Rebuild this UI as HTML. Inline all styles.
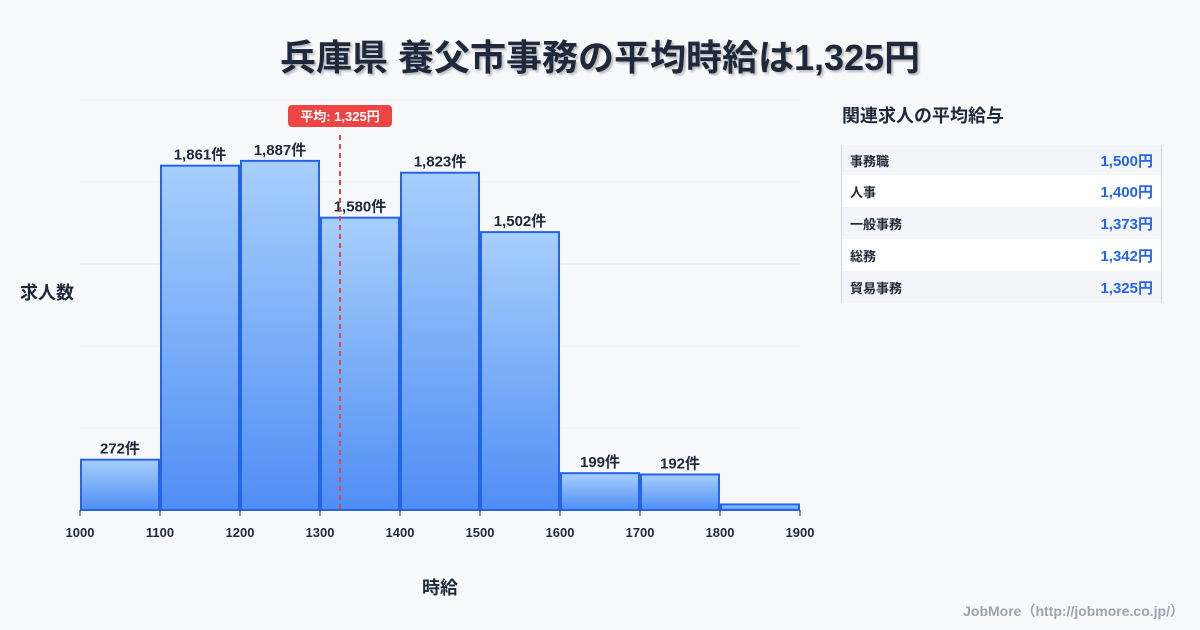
<!DOCTYPE html>
<html><head><meta charset="utf-8">
<style>
body{margin:0;width:1200px;height:630px;background:#f8f9fb;font-family:"Liberation Sans","Noto Sans CJK JP",sans-serif;overflow:hidden;position:relative;color:#1f2937}
#title{position:absolute;top:29px;left:0;width:1200px;text-align:center;font-size:36px;font-weight:bold;color:#1e293b;text-shadow:2px 2px 2px rgba(0,0,0,.25)}
#side-title{position:absolute;left:842px;top:102px;font-size:18px;font-weight:bold;color:#1e293b}
#table{position:absolute;left:841px;top:145px;width:319px;border-left:1px solid #cbd5e1;border-right:1px solid #cbd5e1}
.row{height:32px;display:flex;justify-content:space-between;align-items:center;padding:0 8px;font-size:13px;font-weight:bold}
.row:nth-child(odd){background:#f3f5f8}.row:nth-child(even){background:#fff}
.row .v{color:#2563eb;font-size:15px}
#credit{position:absolute;right:16px;top:601px;font-size:14px;color:#9ca3af;font-weight:bold}
</style></head><body>
<div id="title">兵庫県 養父市事務の平均時給は1,325円</div>
<svg id="chart" width="830" height="630" style="position:absolute;left:0;top:0"></svg>
<div id="side-title">関連求人の平均給与</div>
<div id="table">
<div class="row" style="height:30px"><span>事務職</span><span class="v">1,500円</span></div>
<div class="row"><span>人事</span><span class="v">1,400円</span></div>
<div class="row"><span>一般事務</span><span class="v">1,373円</span></div>
<div class="row"><span>総務</span><span class="v">1,342円</span></div>
<div class="row"><span>貿易事務</span><span class="v">1,325円</span></div>
</div>
<div id="credit">JobMore（http://jobmore.co.jp/）</div>
<script>
const binStarts=[1000,1100,1200,1300,1400,1500,1600,1700,1800];
const counts=[272,1861,1887,1580,1823,1502,199,192,30];
const showLabel=[true,true,true,true,true,true,true,true,false];
const xTicks=[1000,1100,1200,1300,1400,1500,1600,1700,1800,1900];
const meanWage=1325;
const NS="http://www.w3.org/2000/svg";
const svg=document.getElementById('chart');
const X0=80,X1=800,XMIN=1000,XMAX=1900,Y0=510,Y1=100,YMAX=2216;
const x=v=>X0+(v-XMIN)/(XMAX-XMIN)*(X1-X0);
const y=v=>Y0-v/YMAX*(Y0-Y1);
function mk(t,a){const e=document.createElementNS(NS,t);for(const k in a)e.setAttribute(k,a[k]);svg.appendChild(e);return e;}
const defs=mk('defs',{});
defs.innerHTML='<linearGradient id="g" x1="0" y1="0" x2="0" y2="1"><stop offset="0" stop-color="#a7cffc"/><stop offset="1" stop-color="#4f8ef5"/></linearGradient>';
for(let i=0;i<=5;i++){const gy=Y0-i*(Y0-Y1)/5;const l=mk('line',{x1:X0,x2:X1,y1:gy,y2:gy,stroke:'#e5e7eb','stroke-width':1});

}
binStarts.forEach((b,i)=>{
const bx=x(b)+1,bw=x(b+100)-x(b)-2,top=y(counts[i]);
const r=mk('rect',{x:bx,y:top,width:bw,height:Y0-top,fill:'url(#g)',stroke:'#2563eb','stroke-width':2});


if(showLabel[i]){const t=mk('text',{x:x(b+50),y:top-6,'text-anchor':'middle','font-size':15,'font-weight':'bold',fill:'#1e293b'});t.textContent=counts[i].toLocaleString('en-US')+'件';

}
});
xTicks.forEach(v=>{const l=mk('line',{x1:x(v),x2:x(v),y1:Y0,y2:Y0+6,stroke:'#333','stroke-width':1});


const t=mk('text',{x:x(v),y:537,'text-anchor':'middle','font-size':13,'font-weight':'bold',fill:'#1e293b'});t.textContent=v;

});
const mx=x(meanWage);
const ml=mk('line',{x1:mx,x2:mx,y1:135,y2:Y0,stroke:'#e04848','stroke-width':2,'stroke-dasharray':'5,4'});


const mb=mk('rect',{x:mx-52,y:105,width:104,height:22,rx:4,fill:'#ef4444'});


const mt=mk('text',{x:mx,y:121,'text-anchor':'middle','font-size':13,'font-weight':'bold',fill:'#fff'});mt.textContent='平均: '+meanWage.toLocaleString('en-US')+'円';


const yt=mk('text',{x:20,y:299,'font-size':18,'font-weight':'bold',fill:'#1e293b'});yt.textContent='求人数';


const xt=mk('text',{x:440,y:594,'text-anchor':'middle','font-size':18,'font-weight':'bold',fill:'#1e293b'});xt.textContent='時給';


</script>
</body></html>
